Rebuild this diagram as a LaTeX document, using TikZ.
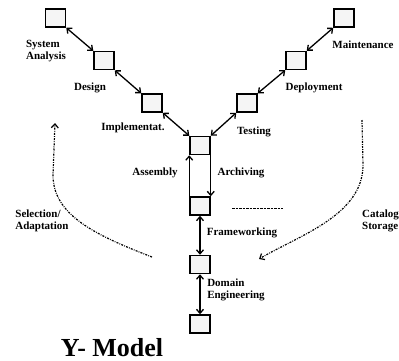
\documentclass[tikz,border=0pt]{standalone}
\usepackage{fontspec}
\setmainfont{Liberation Serif}
\usetikzlibrary{arrows.meta}
\begin{document}
\begin{tikzpicture}[x=1pt,y=-1pt,
  stage/.style={draw, line width=1.5pt, fill=gray!8, minimum width=20pt, minimum height=18pt, inner sep=0pt},
  lbl/.style={font=\fontsize{11}{12.5}\selectfont\bfseries, inner sep=0pt, align=left},
  link/.style={line width=1.3pt, {Straight Barb[length=4pt,width=7pt]}-{Straight Barb[length=4pt,width=7pt]}},
  flow/.style={line width=1.3pt, -{Straight Barb[length=4pt,width=7pt]}},
  reuse/.style={line width=1.2pt, dash pattern=on 2pt off 1.2pt on 0.8pt off 1.2pt, -{Straight Barb[length=4pt,width=7pt]}}
]
\useasboundingbox (0,0) rectangle (399,360);

% stages of the Y
\node[stage] (sa) at (55.5,18) {};
\node[stage] (de) at (104,60.5) {};
\node[stage] (im) at (152,103) {};
\node[stage] (as) at (200,145.5) {};
\node[stage] (ar) at (200,206) {};
\node[stage] (dm) at (200,264.5) {};
\node[stage] (bt) at (200,324) {};
\node[stage] (te) at (247,103) {};
\node[stage] (dp) at (296,60.5) {};
\node[stage] (mt) at (344,18) {};

% left arm
\draw[link] (sa.south east) -- (de.north west);
\draw[link] (de.south east) -- (im.north west);
\draw[link] (im.south east) -- (as.north west);
% right arm
\draw[link] (mt.south west) -- (dp.north east);
\draw[link] (dp.south west) -- (te.north east);
\draw[link] (te.south west) -- (as.north east);
% stem
\draw[flow] (ar.north west) -- (as.south west);
\draw[flow] (as.south east) -- (ar.north east);
\draw[link] (ar) -- (dm);
\draw[link] (dm) -- (bt);

% reuse flows
\coordinate (selA) at (152,257);
\coordinate (selB) at (55,123);
\draw[reuse] (selA) .. controls (95,235) and (53,215) .. (53,175) -- (selB);
\coordinate (catA) at (362,120);
\coordinate (catB) at (259,259);
\draw[reuse] (catA) -- (363,165) .. controls (363,215) and (300,235) .. (catB);

% separator
\coordinate (dA) at (232,208);
\coordinate (dB) at (283,208);
\draw[line width=1pt, dash pattern=on 2.5pt off 1pt] (dA) -- (dB);

% labels
\node[lbl] (lsa) at (46,51) {System\\Analysis};
\node[lbl] (lde) at (90,88) {Design};
\node[lbl] (lim) at (133,128) {Implementat.};
\node[lbl] (las) at (155,173) {Assembly};
\node[lbl] (lar) at (241,173) {Archiving};
\node[lbl] (lte) at (254,132) {Testing};
\node[lbl] (ldp) at (314,88) {Deployment};
\node[lbl] (lmt) at (363,45) {Maintenance};
\node[lbl] (lsel) at (42,221) {Selection/\\Adaptation};
\node[lbl] (lfw) at (242,233) {Frameworking};
\node[lbl] (ldm) at (236,290) {Domain\\Engineering};
\node[lbl, anchor=west] (lcat) at (362,221) {Catalog/\\Storage};
\node[font=\fontsize{26}{28}\selectfont\bfseries, inner sep=0pt] (title) at (112,348) {Y- Model};
\end{tikzpicture}
\end{document}
